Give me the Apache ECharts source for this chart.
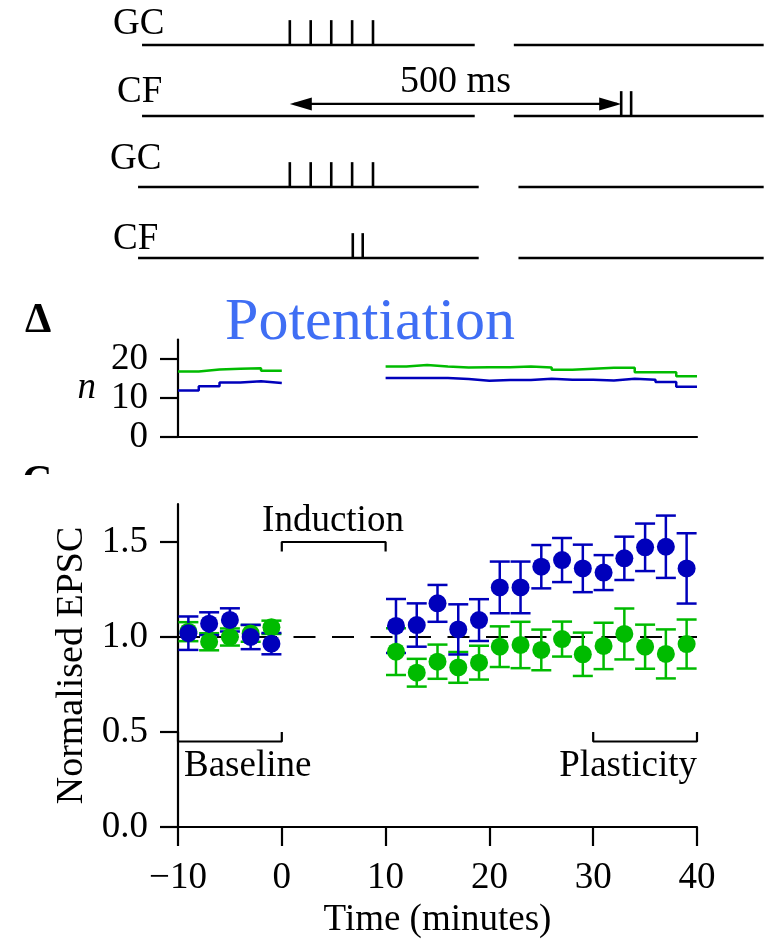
<!DOCTYPE html>
<html>
<head>
<meta charset="utf-8">
<script src="https://cdn.jsdelivr.net/npm/echarts@6/dist/echarts.min.js"></script>
<style>
  html, body { margin: 0; padding: 0; background: #fff; }
  #chart { width: 767px; height: 940px; }
</style>
</head>
<body>
<div id="chart"></div>
<script>
// ---- Stimulation protocol (times in ms, first GC pulse at 0) ----
const rowLabels = ['GC', 'CF', 'GC', 'CF'];
const gcPulses = [0, 31.5, 62.5, 94, 125.5];
const cfPairDelayed = [500, 515];
const cfPairPaired = [95, 110];
const pairingInterval = [0, 500];
// trace extents per row, each row broken into two pieces
const rowSegments = [
  [[-223, 279], [338, 715]],
  [[-223, 279], [338, 715]],
  [[-229, 285], [345, 715]],
  [[-229, 285], [345, 715]]
];

// ---- Number of cells over time (2-min bins) ----
const nTimesPre = [-10, -8, -6, -4, -2];
const nGreenPre = [16.8, 17.3, 17.5, 17.6, 17.0];
const nBluePre = [11.95, 13.0, 14.0, 14.3, 13.85];
const nTimesPost = [10, 12, 14, 16, 18, 20, 22, 24, 26, 28, 30, 32, 34, 36, 38];
const nGreenPost = [18.1, 18.45, 18.1, 17.85, 17.9, 17.9, 18.1, 17.85, 17.26, 17.5, 17.75, 17.75, 16.6, 16.6, 15.55];
const nBluePost = [15.1, 15.1, 15.1, 14.85, 14.45, 14.6, 14.6, 14.95, 14.7, 14.7, 14.5, 14.95, 14.7, 14.1, 12.9];
const binWidth = 2;

// ---- Normalised EPSC (mean ± s.e.m.) ----
const epscTimes = [-9, -7, -5, -3, -1, 11, 13, 15, 17, 19, 21, 23, 25, 27, 29, 31, 33, 35, 37, 39];
const blueMean = [1.02, 1.07, 1.09, 1.0, 0.965, 1.058, 1.063, 1.177, 1.04, 1.089, 1.261, 1.261, 1.37, 1.405, 1.361, 1.339, 1.414, 1.472, 1.475, 1.361];
const blueErr = [0.088, 0.06, 0.061, 0.064, 0.056, 0.142, 0.114, 0.097, 0.132, 0.11, 0.136, 0.136, 0.114, 0.116, 0.125, 0.092, 0.114, 0.125, 0.164, 0.185];
const greenMean = [1.028, 0.975, 1.0, 1.019, 1.051, 0.923, 0.812, 0.87, 0.84, 0.865, 0.949, 0.958, 0.932, 0.989, 0.909, 0.953, 1.016, 0.949, 0.911, 0.963];
const greenErr = [0.05, 0.045, 0.045, 0.044, 0.035, 0.123, 0.073, 0.09, 0.081, 0.089, 0.107, 0.122, 0.107, 0.092, 0.114, 0.122, 0.134, 0.116, 0.129, 0.129];
const referenceLevel = 1.0;
const timeTicks = [-10, 0, 10, 20, 30, 40];
const epscTicks = [0, 0.5, 1.0, 1.5];
const nTicks = [0, 10, 20];

// periods marked with brackets
const inductionPeriod = [0, 10];
const baselinePeriod = [-10, 0];
const plasticityPeriod = [30, 40];

const BLUE = '#0000bb';
const GREEN = '#00bb00';
const TITLE_BLUE = '#3f6ef4';
const FONT = '"Liberation Serif", "Times New Roman", serif';
const FS = 37;

// ---- helpers ----
const rowLevel = r => 3 - r;
const TICK_H = 0.35;

const segData = [];
rowSegments.forEach((segs, r) => segs.forEach(s => segData.push([s[0], s[1], rowLevel(r)])));

const pulseData = [];
gcPulses.forEach(t => { pulseData.push([t, rowLevel(0)]); pulseData.push([t, rowLevel(2)]); });
cfPairDelayed.forEach(t => pulseData.push([t, rowLevel(1)]));
cfPairPaired.forEach(t => pulseData.push([t, rowLevel(3)]));

function stepData(times, vals) {
  const d = times.map((t, i) => [t, vals[i]]);
  d.push([times[times.length - 1] + binWidth, vals[vals.length - 1]]);
  return d;
}
function bracket(period, level, depth) {
  return [[period[0], level + depth], [period[0], level], [period[1], level], [period[1], level + depth]];
}
const errData = (means, errs) => epscTimes.map((t, i) => [t, means[i], errs[i]]);
const ptData = means => epscTimes.map((t, i) => [t, means[i]]);

function errorBarRenderer(color) {
  return function (params, api) {
    const x = api.value(0), m = api.value(1), e = api.value(2);
    const top = api.coord([x, m + e]);
    const bot = api.coord([x, m - e]);
    const hw = 10;
    const style = { stroke: color, lineWidth: 2.5, fill: null };
    return {
      type: 'group',
      children: [
        { type: 'line', shape: { x1: top[0], y1: top[1], x2: bot[0], y2: bot[1] }, style },
        { type: 'line', shape: { x1: top[0] - hw, y1: top[1], x2: top[0] + hw, y2: top[1] }, style },
        { type: 'line', shape: { x1: bot[0] - hw, y1: bot[1], x2: bot[0] + hw, y2: bot[1] }, style }
      ]
    };
  };
}

const lineStyleBlack = { color: '#000', width: 2.2 };
const labelText = { fontFamily: FONT, fontSize: FS, color: '#000' };

// place a text so that its alphabetic baseline sits at `baseline`
const BASE_K = 0.28;
function txt(text, x, baseline, opts) {
  opts = opts || {};
  const size = opts.size || FS;
  const align = opts.align || 'left';
  return {
    type: 'text',
    x: x,
    y: baseline - BASE_K * size,
    z: opts.z || 10,
    style: {
      text: text,
      font: (opts.weight || 'normal') + ' ' + size + 'px ' + FONT,
      fill: opts.color || '#000',
      align: align, textAlign: align,
      verticalAlign: 'middle', textVerticalAlign: 'middle'
    }
  };
}

const option = {
  animation: false,
  backgroundColor: '#fff',
  grid: [
    { left: 91, top: 9.5, width: 677, height: 284 },
    { left: 178, top: 339.5, width: 519, height: 97.5 },
    { left: 178, top: 504, width: 519, height: 323 }
  ],
  xAxis: [
    { gridIndex: 0, type: 'value', min: -300, max: 720, show: false },
    {
      gridIndex: 1, type: 'value', min: -10, max: 40, interval: 10,
      axisLine: { show: true, onZero: false, lineStyle: lineStyleBlack },
      axisTick: { show: false }, axisLabel: { show: false }, splitLine: { show: false }
    },
    {
      gridIndex: 2, type: 'value', min: -10, max: 40, interval: 10,
      axisLine: { show: true, onZero: false, lineStyle: lineStyleBlack },
      axisTick: { show: true, inside: false, length: 19, lineStyle: lineStyleBlack, customValues: timeTicks },
      axisLabel: {
        show: true, margin: 33, customValues: timeTicks,
        formatter: v => (v < 0 ? '\u2212' + Math.abs(v) : String(v)),
        ...labelText
      },
      splitLine: { show: false },
      name: 'Time (minutes)', nameLocation: 'middle', nameGap: 75,
      nameTextStyle: labelText
    }
  ],
  yAxis: [
    { gridIndex: 0, type: 'value', min: -0.5, max: 3.5, show: false },
    {
      gridIndex: 1, type: 'value', min: 0, max: 25,
      axisLine: { show: true, onZero: false, lineStyle: lineStyleBlack },
      axisTick: { show: true, length: 18, lineStyle: lineStyleBlack, customValues: nTicks },
      axisLabel: { show: true, margin: 30, customValues: nTicks, ...labelText },
      splitLine: { show: false },
      name: 'n', nameLocation: 'middle', nameRotate: 0, nameGap: 82,
      nameTextStyle: { ...labelText, fontStyle: 'italic' }
    },
    {
      gridIndex: 2, type: 'value', min: 0, max: 1.7,
      axisLine: { show: true, onZero: false, lineStyle: lineStyleBlack },
      axisTick: { show: true, length: 18, lineStyle: lineStyleBlack, customValues: epscTicks },
      axisLabel: { show: true, margin: 30, customValues: epscTicks, formatter: v => v.toFixed(1), ...labelText },
      splitLine: { show: false },
      name: 'Normalised EPSC', nameLocation: 'middle', nameRotate: 90, nameGap: 80,
      nameTextStyle: { ...labelText, fontSize: 38 }
    }
  ],
  series: [
    // stimulation traces
    {
      type: 'custom', xAxisIndex: 0, yAxisIndex: 0, silent: true,
      data: segData,
      encode: { x: [0, 1], y: 2 },
      renderItem: (params, api) => {
        const a = api.coord([api.value(0), api.value(2)]);
        const b = api.coord([api.value(1), api.value(2)]);
        return { type: 'line', shape: { x1: a[0], y1: a[1], x2: b[0], y2: b[1] }, style: { stroke: '#000', lineWidth: 2.4 } };
      }
    },
    // stimulus pulses
    {
      type: 'custom', xAxisIndex: 0, yAxisIndex: 0, silent: true,
      data: pulseData,
      encode: { x: 0, y: 1 },
      renderItem: (params, api) => {
        const a = api.coord([api.value(0), api.value(1)]);
        const b = api.coord([api.value(0), api.value(1) + TICK_H]);
        return { type: 'line', shape: { x1: a[0], y1: a[1], x2: b[0], y2: b[1] }, style: { stroke: '#000', lineWidth: 2.6 } };
      }
    },
    // pairing interval arrow
    {
      type: 'custom', xAxisIndex: 0, yAxisIndex: 0, silent: true,
      data: [[pairingInterval[0], pairingInterval[1], rowLevel(1) + 0.17]],
      encode: { x: [0, 1], y: 2 },
      renderItem: (params, api) => {
        const a = api.coord([api.value(0), api.value(2)]);
        const b = api.coord([api.value(1), api.value(2)]);
        const L = 22, W = 6.5;
        return {
          type: 'group',
          children: [
            { type: 'line', shape: { x1: a[0] + 4, y1: a[1], x2: b[0] - 4, y2: b[1] }, style: { stroke: '#000', lineWidth: 2.2 } },
            { type: 'polygon', shape: { points: [[a[0], a[1]], [a[0] + L, a[1] - W], [a[0] + L, a[1] + W]] }, style: { fill: '#000' } },
            { type: 'polygon', shape: { points: [[b[0], b[1]], [b[0] - L, b[1] - W], [b[0] - L, b[1] + W]] }, style: { fill: '#000' } },
            {
              type: 'text',
              style: {
                text: (pairingInterval[1] - pairingInterval[0]) + ' ms',
                x: (a[0] + b[0]) / 2, y: a[1] - 11 - BASE_K * 38,
                font: '38px ' + FONT, fill: '#000',
                align: 'center', verticalAlign: 'middle'
              }
            }
          ]
        };
      }
    },
    // n over time
    {
      type: 'line', xAxisIndex: 1, yAxisIndex: 1, step: 'end', showSymbol: false, silent: true,
      data: stepData(nTimesPre, nGreenPre), lineStyle: { color: GREEN, width: 2.5 }
    },
    {
      type: 'line', xAxisIndex: 1, yAxisIndex: 1, step: 'end', showSymbol: false, silent: true,
      data: stepData(nTimesPost, nGreenPost), lineStyle: { color: GREEN, width: 2.5 }
    },
    {
      type: 'line', xAxisIndex: 1, yAxisIndex: 1, step: 'end', showSymbol: false, silent: true,
      data: stepData(nTimesPre, nBluePre), lineStyle: { color: BLUE, width: 2.5 }
    },
    {
      type: 'line', xAxisIndex: 1, yAxisIndex: 1, step: 'end', showSymbol: false, silent: true,
      data: stepData(nTimesPost, nBluePost), lineStyle: { color: BLUE, width: 2.5 }
    },
    // reference level
    {
      type: 'custom', xAxisIndex: 2, yAxisIndex: 2, silent: true,
      data: [[referenceLevel]],
      encode: { y: 0 },
      renderItem: (params, api) => {
        const a = api.coord([-10, api.value(0)]);
        const b = api.coord([40, api.value(0)]);
        return {
          type: 'line', shape: { x1: a[0], y1: a[1], x2: b[0], y2: b[1] },
          style: { stroke: '#000', lineWidth: 2.2, lineDash: [22, 16.5] }
        };
      }
    },
    // period brackets
    {
      type: 'line', xAxisIndex: 2, yAxisIndex: 2, showSymbol: false, silent: true,
      data: bracket(inductionPeriod, 1.5, -0.05), lineStyle: { color: '#000', width: 2.2 }
    },
    {
      type: 'line', xAxisIndex: 2, yAxisIndex: 2, showSymbol: false, silent: true,
      data: bracket(baselinePeriod, 0.45, 0.05), lineStyle: { color: '#000', width: 2.2 }
    },
    {
      type: 'line', xAxisIndex: 2, yAxisIndex: 2, showSymbol: false, silent: true,
      data: bracket(plasticityPeriod, 0.45, 0.05), lineStyle: { color: '#000', width: 2.2 }
    },
    // green group
    {
      type: 'custom', xAxisIndex: 2, yAxisIndex: 2, silent: true,
      data: errData(greenMean, greenErr), encode: { x: 0, y: 1 },
      renderItem: errorBarRenderer(GREEN)
    },
    {
      type: 'scatter', xAxisIndex: 2, yAxisIndex: 2, silent: true,
      data: ptData(greenMean), symbol: 'circle', symbolSize: 18,
      itemStyle: { color: GREEN, opacity: 1 }
    },
    // blue group
    {
      type: 'custom', xAxisIndex: 2, yAxisIndex: 2, silent: true,
      data: errData(blueMean, blueErr), encode: { x: 0, y: 1 },
      renderItem: errorBarRenderer(BLUE)
    },
    {
      type: 'scatter', xAxisIndex: 2, yAxisIndex: 2, silent: true,
      data: ptData(blueMean), symbol: 'circle', symbolSize: 18,
      itemStyle: { color: BLUE, opacity: 1 }
    }
  ],
  graphic: [
    txt(rowLabels[0], 113, 35),
    txt(rowLabels[1], 117, 103),
    txt(rowLabels[2], 110, 170),
    txt(rowLabels[3], 113, 250),
    txt('\u0394', 25, 333, { size: 42, weight: 'bold' }),
    txt('Potentiation', 370, 340, { size: 60, color: TITLE_BLUE, align: 'center' }),
    txt('C', 22, 495, { size: 42, weight: 'bold', z: 10 }),
    { type: 'rect', z: 11, shape: { x: 10, y: 475, width: 55, height: 32 }, style: { fill: '#fff' } },
    txt('Induction', 333, 532, { align: 'center' }),
    txt('Baseline', 184, 777),
    txt('Plasticity', 697, 777, { align: 'right' })
  ]
};

const chart = echarts.init(document.getElementById('chart'), null, { renderer: 'canvas', width: 767, height: 940 });
chart.setOption(option);
</script>
</body>
</html>
